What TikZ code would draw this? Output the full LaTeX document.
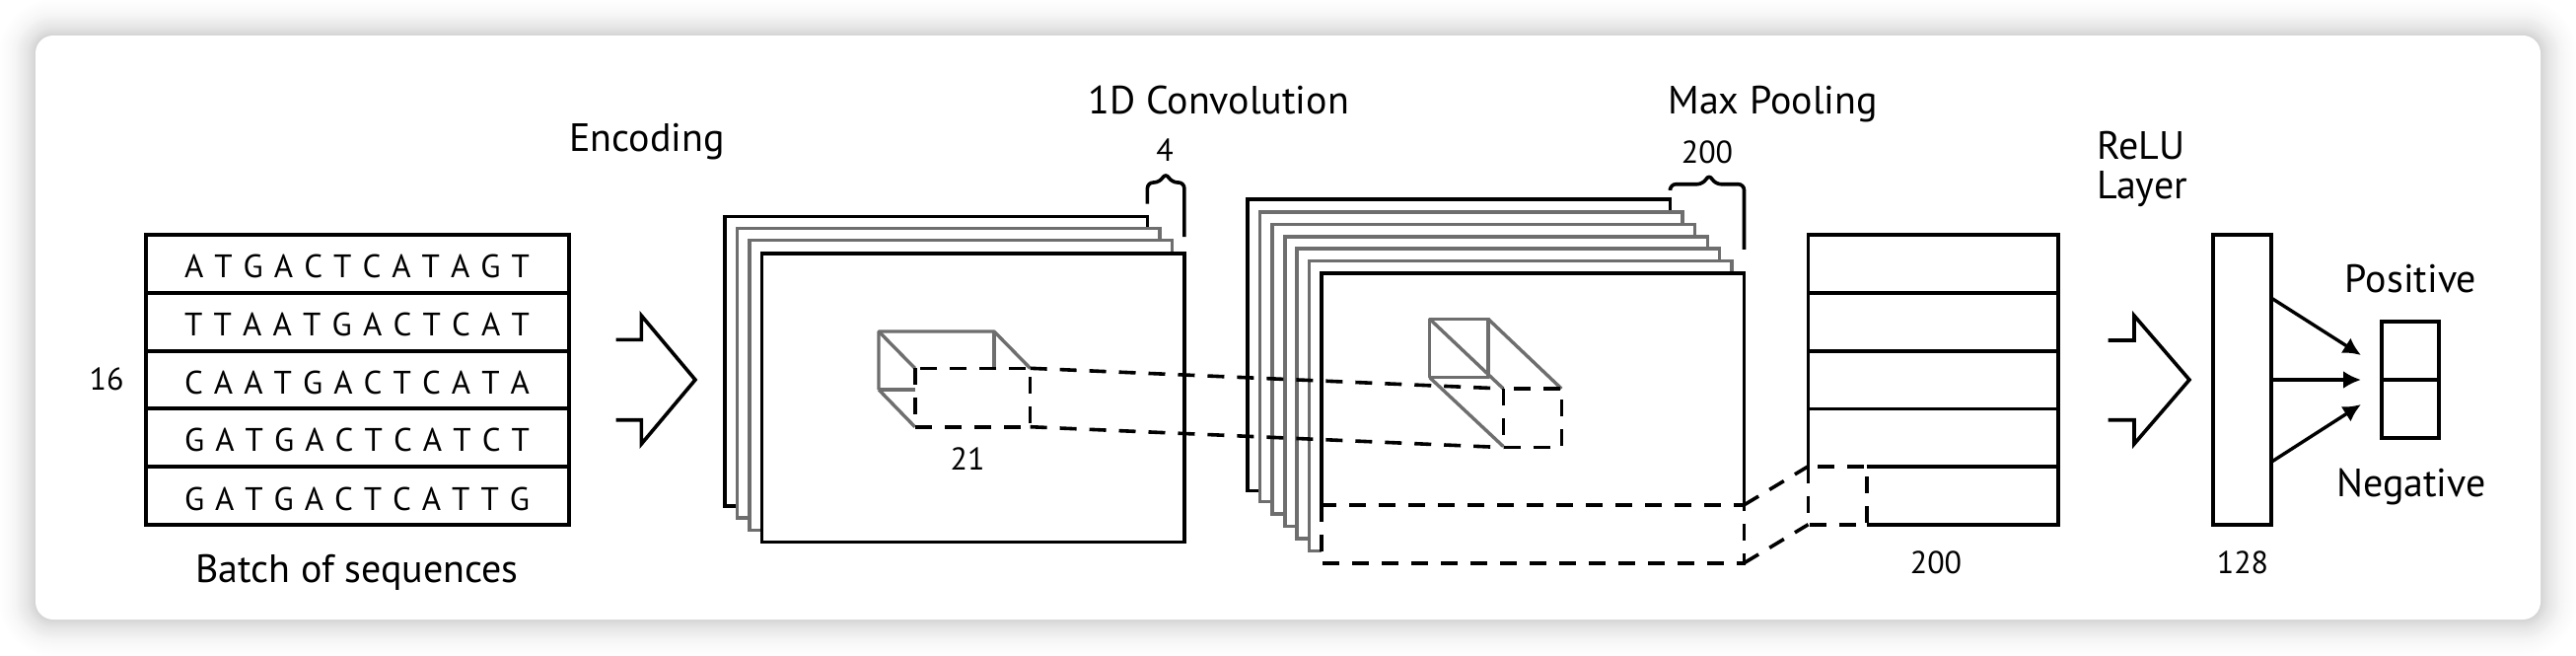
\documentclass[tikz,border=0pt]{standalone}
\usepackage{fontspec}
\setmainfont{PT Sans}
\usetikzlibrary{arrows.meta}
\makeatletter
\newcommand\spreadseq[1]{\hbox to 175pt{\@tfor\seqchr:=#1\do{\seqchr\hfil}\unskip}}
\makeatother
\definecolor{sheetgray}{HTML}{6E6E6E}
\tikzset{
  line/.style={draw=black,line width=1.8pt,line join=miter},
  graysheet/.style={draw=sheetgray,line width=1.8pt,fill=white},
  blacksheet/.style={draw=black,line width=1.8pt,fill=white},
  grayline/.style={draw=sheetgray,line width=1.7pt},
  dashline/.style={draw=black,line width=1.8pt,dash pattern=on 8.5pt off 6.5pt},
  lab/.style={anchor=base,inner sep=0pt,font=\fontsize{20}{24}\selectfont},
  num/.style={anchor=base,inner sep=0pt,font=\fontsize{16}{19}\selectfont},
  seqtext/.style={anchor=base,inner sep=0pt,font=\fontsize{16.5}{19}\selectfont},
  arr/.style={draw=black,line width=1.7pt,-{Latex[length=9pt,width=9pt]}},
}
\newcommand\sheet[5]{\draw[#1] (#2,#3) rectangle (#4,#5);}
\begin{document}
\begin{tikzpicture}[x=0.5pt,y=-0.5pt]
\useasboundingbox (0,0) rectangle (2612,664);
% card shadow
\fill[white] (0,0) rectangle (2612,664);
\foreach \d/\c in {36/0.4,34/0.7,32/1,30/1.5,28/2,26/2.5,24/3,22/3.5,20/4.5,18/5.5,16/6.5,14/7.5,12/8.5,10/9.5,8/11,6/12.5,4/14,2/16}{
  \fill[black!\c,rounded corners=\d/2+9pt] (36-\d,36-\d) rectangle (2576+\d,628+\d);
}
\fill[white,rounded corners=9pt] (36,36) rectangle (2576,628);

% input table
\coordinate (tTL) at (148,238); \coordinate (tBR) at (577,532);
\draw[line] (tTL) rectangle (tBR);
\foreach \y in {297,355.7,414,473}{\draw[line] (148,\y) -- (577,\y);}
\node[seqtext] (s1) at (362,281.7) {\spreadseq{ATGACTCATAGT}};
\node[seqtext] (s2) at (362,340) {\spreadseq{TTAATGACTCAT}};
\node[seqtext] (s3) at (362,399.3) {\spreadseq{CAATGACTCATA}};
\node[seqtext] (s4) at (362,457.7) {\spreadseq{GATGACTCATCT}};
\node[seqtext] (s5) at (362,517.3) {\spreadseq{GATGACTCATTG}};
\node[num] (n16) at (108,395) {16};
\node[lab] (batch) at (362,590) {Batch of sequences};
\node[lab] (enc) at (656,153) {Encoding};

% block arrow 1
\draw[line] (624.5,344.3) -- (650.4,344.3) -- (650.4,320) -- (705,385) -- (650.4,450) -- (650.4,425.7) -- (624.5,425.7);

% encoding stack
\sheet{blacksheet}{734.8}{219.3}{1163.4}{512.7}
\sheet{graysheet}{747.3}{231.3}{1175.9}{524.7}
\sheet{graysheet}{759.8}{243.3}{1188.4}{537.3}
\sheet{blacksheet}{772.3}{256.7}{1200.9}{549.3}
\draw[line,rounded corners=3pt] (1163.4,206.7) -- (1163.4,185) -- (1176,185) -- (1182,175) -- (1188,185) -- (1200.9,185) -- (1200.9,240);
\node[num] (n4) at (1181,163.3) {4};
\node[lab] (conv) at (1235.7,115) {1D Convolution};
% small cube 1
\draw[grayline,line join=round] (891,395) -- (891,336) -- (1008,336) -- (1044.6,373.3);
\draw[grayline] (891,336) -- (927.7,373.3);
\draw[grayline] (1008,336) -- (1008,373.3);
\draw[grayline] (891,395) -- (927.7,395);
\draw[grayline] (891,395) -- (927.7,432.7);
\node[num] (n21) at (981,476.7) {21};

% conv stack
\sheet{blacksheet}{1264.9}{201.9}{1693.5}{497.3}
\sheet{graysheet}{1277.5}{215}{1706}{508.3}
\sheet{graysheet}{1290}{227.4}{1718.4}{520.7}
\sheet{graysheet}{1302.8}{239.8}{1731.4}{533.5}
\sheet{graysheet}{1315}{252.1}{1743.6}{545.9}
\sheet{graysheet}{1327.3}{264.5}{1756}{558.3}
\fill[white] (1340,276.9) rectangle (1768.5,570.7);
\draw[line] (1340,511.8) -- (1340,276.9) -- (1768.5,276.9) -- (1768.5,511.8);
\draw[line,rounded corners=3pt] (1693.5,191) -- (1693.5,186.7) -- (1727,186.7) -- (1733,176.4) -- (1739,186.7) -- (1768.5,186.7) -- (1768.5,252.8);
\node[num] (n200a) at (1731,165) {200};
\node[lab] (pool) at (1797.6,115) {Max Pooling};
% small cube 2
\draw[grayline,line join=round] (1449.7,323.4) rectangle (1509,382.7);
\draw[grayline] (1449.7,323.4) -- (1524.3,394);
\draw[grayline] (1509,323.4) -- (1583.3,394);
\draw[grayline] (1449.7,382.7) -- (1524.3,452.6);

% pooled table
\draw[line] (1833.5,472.7) -- (1833.5,238) -- (2087,238) -- (2087,531.7) -- (1892.7,531.7);
\draw[line] (1892.7,472.7) -- (2087,472.7);
\foreach \y in {297,355.7,414.3}{\draw[line] (1833.5,\y) -- (2087,\y);}
\node[num] (n200b) at (1963,581) {200};

% dashed parts
\coordinate (a1) at (927.7,373.3); \coordinate (a2) at (1044.6,373.3);
\coordinate (a3) at (1044.6,432.7); \coordinate (a4) at (927.7,432.7);
\coordinate (b1) at (1524.3,394); \coordinate (b2) at (1583.3,394);
\coordinate (b3) at (1583.3,453.6); \coordinate (b4) at (1524.3,453.6);
\coordinate (c1) at (1340,511.8); \coordinate (c2) at (1768.5,511.8);
\coordinate (c3) at (1768.5,570.7); \coordinate (c4) at (1340,570.7);
\coordinate (d1) at (1833.5,472.7); \coordinate (d2) at (1892.7,472.7);
\coordinate (d3) at (1892.7,531.7); \coordinate (d4) at (1833.5,531.7);
\draw[dashline] (a1) rectangle (a3);
\draw[dashline] (a2) -- (b1); \draw[dashline] (a3) -- (b4);
\draw[dashline] (b1) rectangle (b3);
\draw[dashline] (c1) rectangle (c3);
\draw[dashline] (c2) -- (d1); \draw[dashline] (c3) -- (d4);
\draw[dashline] (d1) rectangle (d3);

% block arrow 2
\draw[line] (2137.6,345) -- (2164,345) -- (2164,320) -- (2220,385) -- (2164,450) -- (2164,425.7) -- (2137.6,425.7);
\node[lab] (relu1) at (2171,161) {ReLU};
\node[lab] (relu2) at (2172,201.7) {Layer};

% dense layer
\node[draw=black,line width=1.8pt,fill=white,minimum width=29.65pt,minimum height=146.85pt,inner sep=0pt] (dense) at (2273.4,384.85) {};
\node[num] (n128) at (2274,581) {128};
% output
\node[draw=black,line width=1.8pt,fill=white,minimum width=29pt,minimum height=29.5pt,inner sep=0pt] (pos) at (2444,355.5) {};
\node[draw=black,line width=1.8pt,fill=white,minimum width=29pt,minimum height=29.5pt,inner sep=0pt] (neg) at (2444,414.5) {};
\node[lab] (plab) at (2444.5,296.7) {Positive};
\node[lab] (nlab) at (2445,503.3) {Negative};
\coordinate (d-a) at (2304,302.7); \coordinate (t-a) at (2394,360);
\coordinate (d-b) at (2304,385); \coordinate (t-b) at (2394,385);
\coordinate (d-c) at (2304,467.7); \coordinate (t-c) at (2394,410);
\draw[arr] (d-a) -- (t-a);
\draw[arr] (d-b) -- (t-b);
\draw[arr] (d-c) -- (t-c);
\end{tikzpicture}
\end{document}
